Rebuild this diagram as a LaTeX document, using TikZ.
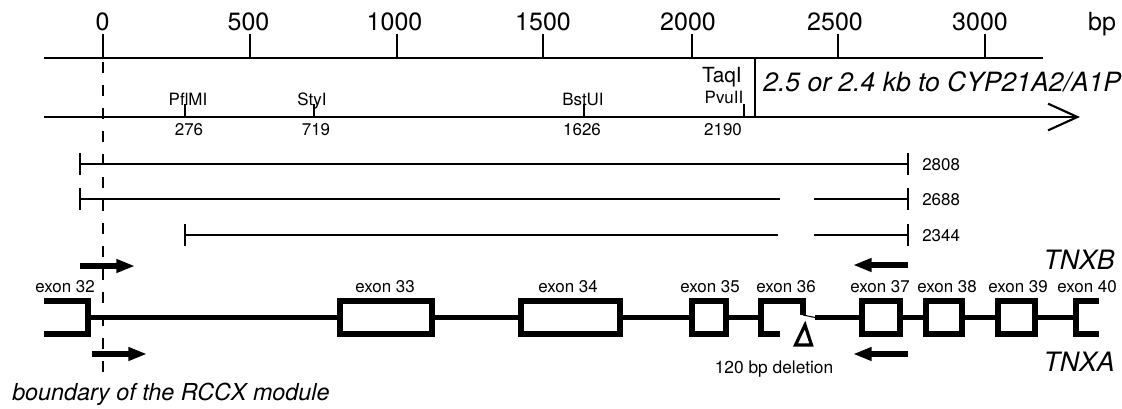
\documentclass[tikz,border=0pt]{standalone}
\usepackage{fontspec}
\setmainfont{TeX Gyre Heros}
\usetikzlibrary{arrows.meta}
\begin{document}
\begin{tikzpicture}[x=0.75pt,y=-0.75pt,
  lbl/.style={inner sep=0pt, anchor=base, font=\fontsize{12.7}{14}\selectfont},
  scalelbl/.style={inner sep=0pt, anchor=base, font=\fontsize{18.75}{20}\selectfont},
  axisline/.style={line width=1.6pt},
  tickline/.style={line width=1.5pt},
  frag/.style={line width=1.1pt},
  fragend/.style={line width=1.3pt},
  gene/.style={line width=4.1pt, line join=miter, line cap=butt},
  primer/.style={line width=5pt, -{Triangle[length=14pt,width=9.6pt]}},
]
\useasboundingbox (0,0) rectangle (1122,408);

% ---- bp scale ----
\coordinate (axL) at (44,58);
\coordinate (axR) at (1043,58);
\draw[axisline] (axL) -- (axR);
\foreach \x/\lx/\t in {103/102.5/0, 250/248.5/500, 397/394.5/1000, 543/543/1500, 692/688/2000, 838/835/2500, 985/980/3000}{
  \coordinate (tk\t) at (\x,34);
  \coordinate (tb\t) at (\x,58);
  \draw[tickline] (tk\t) -- (tb\t);
  \node[scalelbl] (s\t) at (\lx,30) {\t};
}
\node[scalelbl] (bp) at (1102,30) {bp};

% ---- restriction map ----
\coordinate (mapL) at (44,117);
\coordinate (mapR) at (1080,117);
\draw[axisline,-{Straight Barb[length=22pt,width=20pt]}] (mapL) -- (mapR);
\coordinate (tqT) at (755,58);
\coordinate (tqB) at (755,117);
\draw[tickline] (tqT) -- (tqB);
\node[inner sep=0pt, anchor=base, font=\fontsize{15.6}{17}\selectfont] (taq) at (722,82) {TaqI};
\node[inner sep=0pt, anchor=base west, font=\itshape\fontsize{19.9}{22}\selectfont] (cyp) at (763,91) {2.5 or 2.4 kb to CYP21A2/A1P};

\foreach \x/\nm/\num/\lx/\ly/\nx in {185/PflMI/276/188/105/189, 314/StyI/719/312/105/316, 584/BstUI/1626/583/105/582, 744/PvuII/2190/724/103/723}{
  \coordinate (st\num) at (\x,104);
  \coordinate (sb\num) at (\x,117);
  \draw[tickline] (st\num) -- (sb\num);
  \node[lbl] (e\num) at (\lx,\ly) {\nm};
  \node[lbl] (n\num) at (\nx,135) {\num};
}

% ---- RCCX boundary ----
\coordinate (bdT) at (103,62);
\coordinate (bdB) at (103,378);
\draw[line width=1.9pt, dash pattern=on 8.25pt off 9pt] (bdT) -- (bdB);
\node[inner sep=0pt, anchor=base west, font=\itshape\fontsize{17.5}{19}\selectfont] (bnd) at (12,400) {boundary of the RCCX module};

% ---- fragments ----
\coordinate (fa1) at (80,164); \coordinate (fa2) at (908,164);
\draw[frag] (fa1) -- (fa2);
\draw[fragend] (80,153) -- (80,175);
\draw[fragend] (908,153) -- (908,175);
\node[lbl, anchor=base west] (f2808) at (922,170) {2808};

\coordinate (fb1) at (80,199); \coordinate (fb2) at (780,199);
\coordinate (fb3) at (814,199); \coordinate (fb4) at (908,199);
\draw[frag] (fb1) -- (fb2);
\draw[frag] (fb3) -- (fb4);
\draw[fragend] (80,188) -- (80,210);
\draw[fragend] (908,188) -- (908,210);
\node[lbl, anchor=base west] (f2688) at (922,205) {2688};

\coordinate (fc1) at (185,235); \coordinate (fc2) at (778,235);
\coordinate (fc3) at (814,235); \coordinate (fc4) at (908,235);
\draw[frag] (fc1) -- (fc2);
\draw[frag] (fc3) -- (fc4);
\draw[fragend] (185,224) -- (185,246);
\draw[fragend] (908,224) -- (908,246);
\node[lbl, anchor=base west] (f2344) at (922,241) {2344};

% ---- gene structure ----
\draw[gene] (44,301) -- (88,301) -- (88,334) -- (44,334);
\draw[gene] (88,317.5) -- (340,317.5);
\draw[gene] (340,301) rectangle (432,334);
\draw[gene] (432,317.5) -- (521,317.5);
\draw[gene] (521,301) rectangle (620,334);
\draw[gene] (620,317.5) -- (692,317.5);
\draw[gene] (692,301) rectangle (726,334);
\draw[gene] (726,317.5) -- (761,317.5);
\draw[gene] (780,334) -- (761,334) -- (761,301) -- (803,301) -- (803,315);
\draw[line width=0.8pt] (803,315) -- (815,317.5);
\draw[gene] (815,317.5) -- (862,317.5);
\draw[gene] (862,301) rectangle (900,334);
\draw[gene] (900,317.5) -- (926,317.5);
\draw[gene] (926,301) rectangle (962,334);
\draw[gene] (962,317.5) -- (998,317.5);
\draw[gene] (998,301) rectangle (1035,334);
\draw[gene] (1035,317.5) -- (1076,317.5);
\draw[gene] (1099,301) -- (1076,301) -- (1076,334) -- (1099,334);

\foreach \x/\n in {65/32, 385/33, 568/34, 710/35, 786/36, 880/37, 947/38, 1018/39, 1087/40}{
  \node[lbl] (ex\n) at (\x,292) {exon \n};
}

% deletion
\draw[line width=2.4pt, line join=miter] (805,325) -- (811.5,345) -- (795.5,345) -- cycle;
\node[inner sep=0pt, anchor=base, font=\fontsize{13}{15}\selectfont] (del) at (774,373) {120 bp deletion};

% ---- primers ----
\coordinate (p1a) at (80,266);  \coordinate (p1b) at (135,266);
\coordinate (p2a) at (92,354);  \coordinate (p2b) at (147,354);
\coordinate (p3a) at (908,265); \coordinate (p3b) at (853,265);
\coordinate (p4a) at (908,354); \coordinate (p4b) at (853,354);
\draw[primer] (p1a) -- (p1b);
\draw[primer] (p2a) -- (p2b);
\draw[primer] (p3a) -- (p3b);
\draw[primer] (p4a) -- (p4b);

\node[inner sep=0pt, anchor=base east, font=\itshape\fontsize{20}{22}\selectfont] (tnxb) at (1115,269) {TNXB};
\node[inner sep=0pt, anchor=base east, font=\itshape\fontsize{20}{22}\selectfont] (tnxa) at (1115,371) {TNXA};
\end{tikzpicture}
\end{document}
